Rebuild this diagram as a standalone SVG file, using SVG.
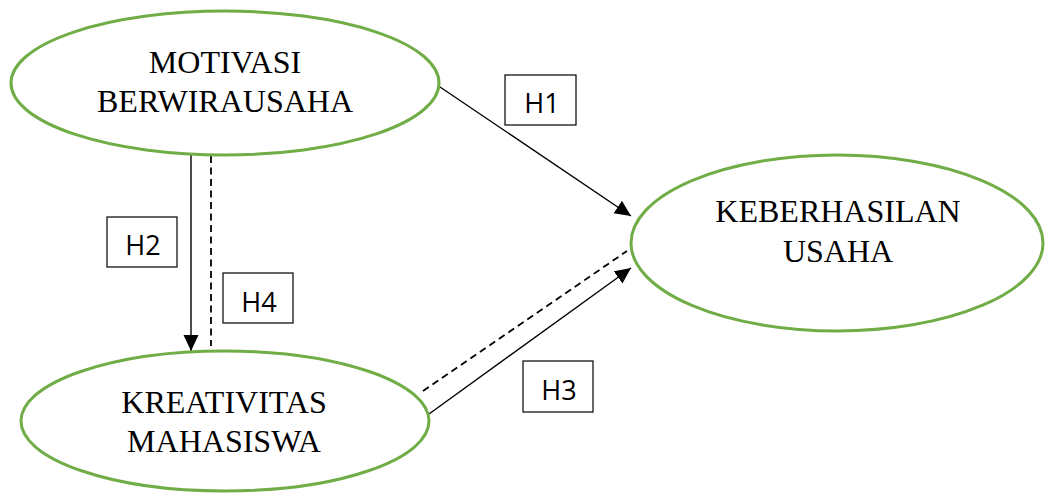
<svg xmlns="http://www.w3.org/2000/svg" width="1045" height="493" viewBox="0 0 1045 493">
<style>
.node{fill:#fff;stroke:#70AD47;stroke-width:3}
.nt{font-family:"Liberation Serif","Times New Roman",serif;font-size:32px;fill:#000;text-anchor:middle}
.ln{stroke:#000;stroke-width:1.4;fill:none}
.dash{stroke-dasharray:7,4.5;stroke-width:1.8}
.lb{fill:#fff;stroke:#000;stroke-width:1.2}
.lt{font-family:"Open Sans","Liberation Sans",sans-serif;font-size:27px;fill:#000;text-anchor:middle}
</style>
<defs>
<marker id="ah" markerUnits="userSpaceOnUse" markerWidth="16" markerHeight="16" refX="16" refY="7.5" orient="auto" viewBox="0 0 16 15">
<path d="M0,0 L16,7.5 L0,15 z" fill="#000"/>
</marker>
</defs>
<rect width="1045" height="493" fill="#fff"/>
<g id="connectors">
<line class="ln" x1="440" y1="87" x2="631" y2="216" marker-end="url(#ah)"/>
<line class="ln" x1="191" y1="155" x2="191" y2="351" marker-end="url(#ah)"/>
<line class="ln dash" x1="211" y1="156" x2="211" y2="346"/>
<line class="ln" x1="429" y1="414" x2="631" y2="268" marker-end="url(#ah)"/>
<line class="ln dash" x1="423" y1="391" x2="627" y2="251"/>
</g>
<g id="motivasi">
<ellipse class="node" cx="225" cy="83" rx="214" ry="72"/>
<text class="nt" x="225" y="73">MOTIVASI</text>
<text class="nt" x="225" y="112">BERWIRAUSAHA</text>
</g>
<g id="kreativitas">
<ellipse class="node" cx="225" cy="421" rx="204" ry="70"/>
<text class="nt" x="224" y="413">KREATIVITAS</text>
<text class="nt" x="224" y="452">MAHASISWA</text>
</g>
<g id="keberhasilan">
<ellipse class="node" cx="837" cy="243" rx="206" ry="88"/>
<text class="nt" x="838" y="222">KEBERHASILAN</text>
<text class="nt" x="838" y="262">USAHA</text>
</g>
<g id="label-h1">
<rect class="lb" x="505" y="75" width="71" height="50"/>
<text class="lt" x="542" y="113">H1</text>
</g>
<g id="label-h2">
<rect class="lb" x="107" y="217" width="70" height="50"/>
<text class="lt" x="143" y="255">H2</text>
</g>
<g id="label-h4">
<rect class="lb" x="223" y="273" width="70" height="50"/>
<text class="lt" x="259" y="312">H4</text>
</g>
<g id="label-h3">
<rect class="lb" x="523" y="361" width="70" height="51"/>
<text class="lt" x="559" y="400">H3</text>
</g>
</svg>
